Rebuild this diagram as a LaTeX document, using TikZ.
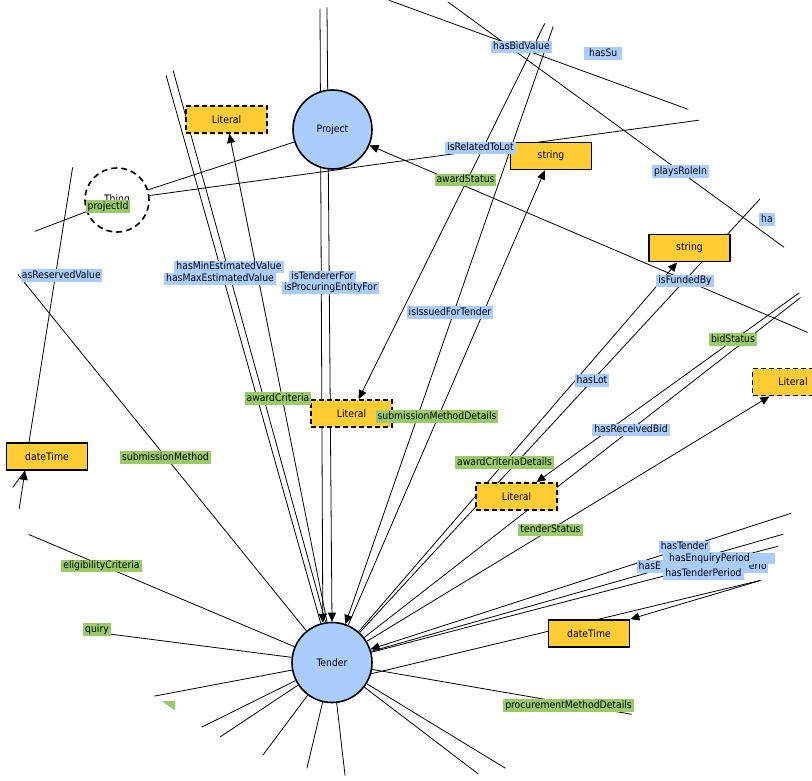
\documentclass[tikz,border=0pt]{standalone}
\usepackage{fontspec}
\setmainfont{DejaVu Sans Condensed}
\usetikzlibrary{arrows.meta,calc}
\pgfdeclarelayer{background}
\pgfsetlayers{background,main}
\definecolor{cblue}{HTML}{AACCFF}
\definecolor{cgreen}{HTML}{99CC66}
\definecolor{cyel}{HTML}{FFCC33}
\begin{document}
\begin{tikzpicture}[x=1pt,y=-1pt,
  every node/.style={font=\fontsize{10.3}{12}\selectfont},
  cls/.style={circle,draw=black,line width=1.6pt,fill=cblue,minimum size=80pt,inner sep=0pt},
  solidbox/.style={rectangle,draw=black,line width=1.8pt,fill=cyel,minimum width=81pt,minimum height=27pt,inner sep=0pt},
  dashbox/.style={rectangle,draw=black,line width=1.8pt,dash pattern=on 5pt off 3pt,fill=cyel,minimum width=81pt,minimum height=27pt,inner sep=0pt},
  lab/.style={inner xsep=2pt,inner ysep=1pt,text height=8pt,text depth=2.5pt},
  bl/.style={lab,fill=cblue},
  gr/.style={lab,fill=cgreen},
  ln/.style={draw=black,line width=0.8pt},
  arr/.style={-{Triangle[length=9pt,width=8pt]}},
  ext/.style={shorten <=-40pt},
  exte/.style={shorten >=-40pt}]
\useasboundingbox (0,0) rectangle (812,780);

% ---------- nodes ----------
\node[cls,minimum size=79pt] (Project) at (332.5,129.5) {Project};
\node[cls] (Tender) at (332,662.5) {Tender};
\node[circle,draw=black,line width=1.6pt,dash pattern=on 6pt off 4pt,minimum size=64pt,inner sep=0pt] (Thing) at (117,200) {Thing};
\node[dashbox] (LitTL) at (226.5,119.5) {Literal};
\node[solidbox] (Str1) at (551,156) {string};
\node[solidbox] (Str2) at (689.5,248) {string};
\node[dashbox] (LitMid) at (351.5,413.5) {Literal};
\node[dashbox] (LitR) at (793,382) {Literal};
\node[dashbox] (LitLow) at (516.5,496.5) {Literal};
\node[solidbox] (DTL) at (47,456.5) {dateTime};
\node[solidbox] (DTR) at (589,633.5) {dateTime};

% ---------- free ends ----------
\coordinate (vt1) at (320,8);
\coordinate (vt2) at (327,8);
\coordinate (ul1) at (166,75);
\coordinate (ul2) at (173,70);
\coordinate (thl) at (73,165);
\coordinate (dl1) at (19,510);
\coordinate (dl2) at (13,487);
\coordinate (pj) at (33,232);
\coordinate (rl) at (700,120);
\coordinate (fb) at (809,333);
\coordinate (a1) at (391,1);
\coordinate (a2) at (690,110);
\coordinate (b1) at (448,2);
\coordinate (b2) at (785,248);
\coordinate (cc) at (545,23);
\coordinate (dd) at (553,27);
\coordinate (lb) at (760,199);
\coordinate (rb1) at (799,293);
\coordinate (rb2) at (800,298);
\coordinate (sm) at (20,277);
\coordinate (ec) at (30,535);
\coordinate (eq) at (86,631);
\coordinate (l1) at (155,696);
\coordinate (l2) at (202,727);
\coordinate (l3) at (220,737);
\coordinate (l4) at (263,755);
\coordinate (l5) at (307,768);
\coordinate (l6) at (345,775);
\coordinate (r1) at (477,773);
\coordinate (r2) at (505,768);
\coordinate (r3) at (630,714);
\coordinate (rr1) at (792,513);
\coordinate (rr2) at (784,534);
\coordinate (rr3) at (779,546);
\coordinate (pe) at (762,580);
\coordinate (dtltop) at ($(DTL.north)+(-18,0)$);
\coordinate (dtlbot) at ($(DTL.south)+(-22,0)$);

% ---------- connectors ----------
\begin{pgfonlayer}{background}
\begin{scope}
\clip (406,390) ellipse [x radius=406pt, y radius=390pt];
\draw[ln,ext,arr] (vt1) -- (Tender.103);
\draw[ln,ext,arr] (vt2) -- (Tender.90);
\draw[ln,exte] (Tender.106) -- (ul1);
\draw[ln,exte] (Tender.99) -- (ul2);
\draw[ln,arr] (Tender.97) -- (LitTL);
\draw[ln] (Thing) -- (Project);
\draw[ln,exte] (Thing) -- (rl);
\draw[ln,ext] (pj) -- (Thing);
\draw[ln,ext,arr] (fb) -- (Project);
\draw[ln,ext,exte] (a1) -- (a2);
\draw[ln,ext,exte] (b1) -- (b2);
\draw[ln,ext,arr] (cc) -- (LitMid);
\draw[ln,ext,arr] (dd) -- (Tender);
\draw[ln,arr] (Tender) -- (Str1);
\draw[ln,arr] (Tender) -- (Str2);
\draw[ln,exte] (Tender) -- (lb);
\draw[ln,ext,arr] (rb1) -- (LitLow);
\draw[ln,exte] (Tender) -- (rb2);
\draw[ln,arr] (Tender) -- (LitR);
\draw[ln,ext] (thl) -- (dtltop);
\draw[ln,ext,arr] (dl1) -- (dtlbot);
\draw[ln,ext] (dl2) -- (dtlbot);
\draw[ln,ext] (sm) -- (Tender);
\draw[ln,ext] (ec) -- (Tender);
\draw[ln,ext] (eq) -- (Tender);
\draw[ln,ext] (l1) -- (Tender);
\draw[ln,ext] (l2) -- (Tender);
\draw[ln,ext] (l3) -- (Tender);
\draw[ln,ext] (l4) -- (Tender);
\draw[ln,ext] (l5) -- (Tender);
\draw[ln,ext] (l6) -- (Tender);
\draw[ln,ext] (r1) -- (Tender);
\draw[ln,ext] (r2) -- (Tender);
\draw[ln,ext] (r3) -- (Tender);
\draw[ln,ext,arr] (rr1) -- (Tender.19);
\draw[ln,ext] (rr2) -- (Tender);
\draw[ln,ext] (rr3) -- (Tender);
\draw[ln,exte] (Tender.-16) -- (pe);
\draw[ln,ext,arr] (pe) -- (DTR.north east);
\end{scope}
\end{pgfonlayer}

% ---------- labels ----------
\node[bl] (lHBV) at (521.5,47) {hasBidValue};
\node[bl,anchor=west,minimum width=38pt] (lHSu) at (584,53.5) {hasSu};
\node[bl] (lIRL) at (480.5,148) {isRelatedToLot};
\node[bl] (lPRI) at (680.5,171.5) {playsRoleIn};
\node[bl,anchor=west] (lHa) at (759,219.5) {ha};
\node[bl] (lIFB) at (685,281) {isFundedBy};
\node[bl,anchor=east,inner xsep=1pt] (lHRV) at (102,275.5) {asReservedValue};
\node[bl] (lMin) at (229,267) {hasMinEstimatedValue};
\node[bl] (lMax) at (220,279) {hasMaxEstimatedValue};
\node[bl] (lITF) at (322.5,277) {isTendererFor};
\node[bl] (lIPE) at (330.5,288) {isProcuringEntityFor};
\node[bl] (lIIT) at (450,312.5) {isIssuedForTender};
\node[bl] (lHL) at (592,380.5) {hasLot};
\node[bl] (lHRB) at (631,430) {hasReceivedBid};
\node[bl,anchor=west,inner xsep=1.5pt] (lHE) at (637,566.5) {\makebox[128pt]{hasE\hfill erio}};
\fill[cblue] (663,553) rectangle (775,563.5);
\node[bl] (lHEP) at (709.5,558.5) {hasEnquiryPeriod};
\node[bl] (lHT) at (684.5,547) {hasTender};
\node[bl] (lHTP) at (703.5,573.5) {hasTenderPeriod};

\node[gr] (lPId) at (108,206.5) {projectId};
\node[gr] (lAS) at (465.5,180) {awardStatus};
\node[gr] (lBS) at (733,339.5) {bidStatus};
\node[gr] (lAC) at (278,398.5) {awardCriteria};
\node[gr] (lSMD) at (437,416.5) {submissionMethodDetails};
\node[gr] (lSM) at (165.5,457.5) {submissionMethod};
\node[gr] (lACD) at (504.5,462.5) {awardCriteriaDetails};
\node[gr] (lTS) at (550.5,530) {tenderStatus};
\node[gr] (lEC) at (101.5,566) {eligibilityCriteria};
\node[gr,anchor=east] (lQ) at (111,629.5) {quiry};
\fill[cgreen] (161.7,701) -- (175,701) -- (175,710.5) -- cycle;
\node[gr] (lPMD) at (568.5,705.5) {procurementMethodDetails};
\end{tikzpicture}
\end{document}
